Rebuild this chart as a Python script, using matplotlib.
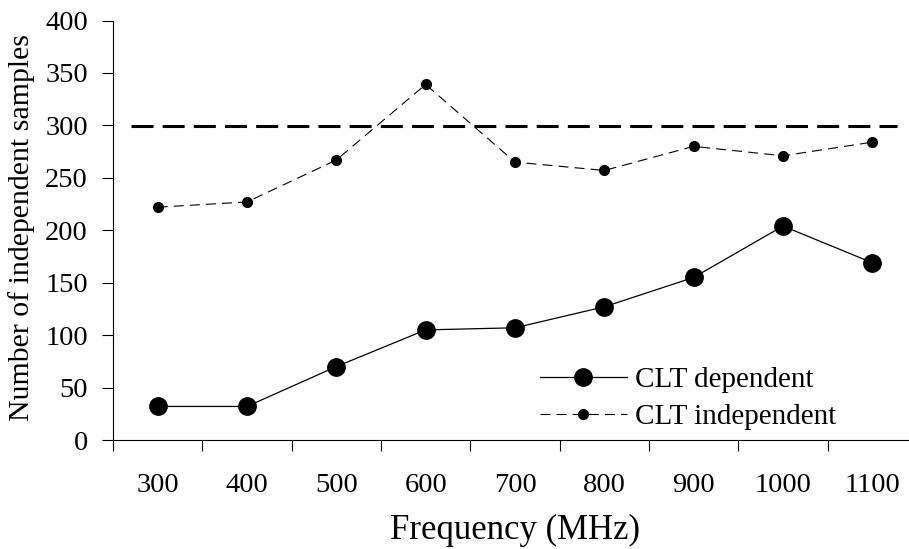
import matplotlib
matplotlib.use("Agg")
import matplotlib.pyplot as plt
import numpy as np

categories = ["300", "400", "500", "600", "700", "800", "900", "1000", "1100"]
clt_dependent = [32, 32, 70, 105, 107, 127, 155, 204, 169]
clt_independent = [222, 227, 267, 339, 265, 257, 280, 271, 284]
reference_level = 299
reference_span = (-0.30, 8.28)
y_ticks = [0, 50, 100, 150, 200, 250, 300, 350, 400]

plt.rcParams['font.family'] = ['Liberation Serif', 'DejaVu Serif']

W, H = 909, 549
fig = plt.figure(figsize=(W / 100, H / 100), dpi=100)
ax = fig.add_axes([113 / W, 1 - 440 / H, 804 / W, 419.5 / H])

x = np.arange(len(categories))
ax.plot(x, clt_dependent, color='black', lw=0.9, marker='o', markersize=12.5,
        label='CLT dependent', clip_on=False)
ax.plot(x, clt_independent, color='black', lw=0.8, linestyle=(0, (9, 5.5)),
        marker='o', markersize=7, label='CLT independent', clip_on=False)
ax.hlines(reference_level, *reference_span, colors='black', lw=2.2,
          linestyles=(0, (7.2, 3.0)))

ax.set_xlim(-0.5, len(categories) - 0.5)
ax.set_ylim(0, 400)
ax.set_yticks(y_ticks)
ax.set_xticks(np.arange(len(categories) + 1) - 0.5, minor=False)
ax.set_xticklabels([])
ax.set_xticks(x, minor=True)
ax.set_xticklabels(categories, minor=True)
ax.tick_params(axis='x', which='major', direction='out', length=8, width=0.8)
ax.tick_params(axis='x', which='minor', length=0, pad=24, labelsize=20.5)
ax.tick_params(axis='y', direction='out', length=8, width=0.8, labelsize=20.5, pad=10)

for side in ['top', 'right']:
    ax.spines[side].set_visible(False)
ax.spines['left'].set_linewidth(0.8)
ax.spines['bottom'].set_linewidth(0.8)

ax.set_xlabel('Frequency (MHz)', fontsize=25, labelpad=11)
ax.set_ylabel('Number of independent samples', fontsize=21.5)
ax.yaxis.set_label_coords(-0.097, 0.5066)

leg = fig.legend(handles=ax.get_lines()[:2], loc='upper left',
                 bbox_to_anchor=(540 / W, 1 - 367 / H), frameon=False,
                 fontsize=21, handlelength=2.98, handletextpad=0.28,
                 labelspacing=0.35, borderpad=0, borderaxespad=0)

fig.savefig('out.png', dpi=100)
